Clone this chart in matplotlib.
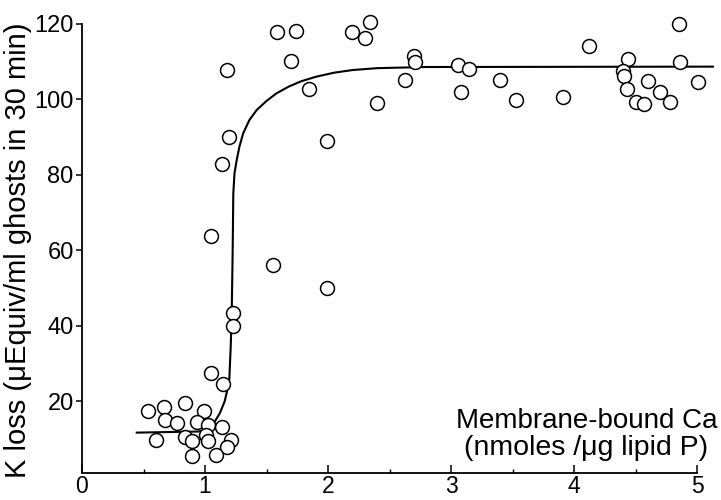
import matplotlib
matplotlib.use("Agg")
import matplotlib.pyplot as plt
from matplotlib.ticker import MultipleLocator

# ---- data ----
low_x = [0.539, 0.669, 0.675, 0.77, 0.837, 0.994, 0.932, 1.022, 1.138, 0.599, 0.837,
         0.892, 1.006, 1.027, 1.215, 1.18, 0.892, 1.092, 1.049, 1.149, 1.23, 1.23]
low_y = [17.3, 18.4, 15.1, 14.3, 19.5, 17.4, 14.4, 13.6, 13.3, 9.8, 10.6,
         9.4, 11.0, 9.5, 9.8, 8.0, 5.6, 5.7, 27.5, 24.6, 43.3, 40.0]

high_x = [1.583, 1.737, 1.176, 1.699, 1.846, 1.195, 1.138, 1.989, 1.046, 1.556, 1.995,
          2.198, 2.34, 2.30, 2.70, 2.71, 2.63, 2.40,
          3.06, 3.15, 3.08, 3.40, 3.53, 3.91, 4.12, 4.44, 4.40, 4.41, 4.43, 4.50,
          4.57, 4.60, 4.70, 4.78, 4.85, 4.86, 5.01]
high_y = [118.0, 118.2, 107.8, 110.2, 102.8, 90.0, 82.8, 89.0, 63.8, 56.0, 50.1,
          118.0, 120.4, 116.2, 111.5, 110.0, 105.2, 99.0,
          109.1, 108.1, 102.1, 105.2, 99.9, 100.7, 114.3, 110.7, 107.6, 106.2, 102.9, 99.2,
          98.8, 105.0, 102.1, 99.2, 120.0, 110.0, 104.7]

curve_x = [0.445, 0.95, 1.02, 1.06, 1.12, 1.16, 1.185, 1.198, 1.209, 1.217, 1.225, 1.23,
           1.24, 1.258, 1.28, 1.31, 1.36, 1.42, 1.5, 1.58, 1.68, 1.78, 1.9, 2.05, 2.2,
           2.4, 2.8, 5.13]
curve_y = [11.7, 12.0, 12.6, 13.6, 16.8, 20.0, 23.5, 26.0, 34.5, 43.0, 60.0, 75.0,
           80.5, 84.0, 87.5, 91.0, 94.5, 97.2, 99.6, 101.6, 103.4, 104.8, 106.0, 107.1,
           107.8, 108.3, 108.6, 108.7]

x_ticks = [0, 1, 2, 3, 4, 5]
y_ticks = [20, 40, 60, 80, 100, 120]

plt.rcParams['font.family'] = ['Liberation Sans', 'DejaVu Sans']

fig = plt.figure(figsize=(7.21, 5.0), dpi=100)
ax = fig.add_axes([82/721, 27/500, (713-82)/721, (473-24)/500])

ax.plot(curve_x, curve_y, color='black', lw=1.5, zorder=2, clip_on=False)
all_x = low_x + high_x
all_y = low_y + high_y
ax.scatter(all_x, all_y, s=100, facecolors='white', edgecolors='black',
           linewidths=1.1, zorder=3, clip_on=False)

ax.set_xlim(0, 5.13)
ax.set_ylim(1, 120)
ax.spines['top'].set_visible(False)
ax.spines['right'].set_visible(False)
ax.spines['bottom'].set_bounds(0, 5)
for s in ('left', 'bottom'):
    ax.spines[s].set_linewidth(1.3)

ax.set_xticks(x_ticks)
ax.set_xticklabels([str(t) for t in x_ticks])
ax.xaxis.set_minor_locator(MultipleLocator(0.5))
ax.set_yticks(y_ticks)
ax.set_yticklabels([str(t) for t in y_ticks])

ax.tick_params(axis='x', which='major', direction='in', length=6, width=1.1,
               labelsize=16.5, pad=1.5)
ax.tick_params(axis='x', which='minor', direction='in', length=3, width=1.0)
ax.tick_params(axis='y', which='major', direction='out', length=4, width=1.1,
               labelsize=17, pad=2)

fig.text(18/721, 0.5, 'K loss (μEquiv/ml ghosts in 30 min)', rotation=90,
         ha='center', va='center', fontsize=21)
fig.text(718/721, (500-421)/500, 'Membrane-bound Ca', ha='right', va='center',
         fontsize=20)
fig.text(708/721, (500-448)/500, '(nmoles /μg lipid P)', ha='right', va='center',
         fontsize=20.5)

fig.savefig('out.png', dpi=100)
